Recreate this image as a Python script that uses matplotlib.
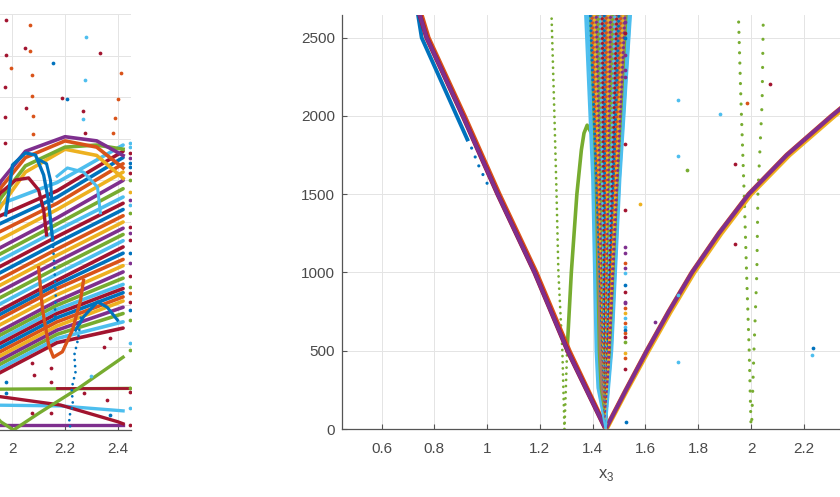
import matplotlib
matplotlib.use('Agg')
import matplotlib.pyplot as plt
from matplotlib.ticker import FuncFormatter

plt.rcParams['font.family'] = ['Liberation Sans', 'DejaVu Sans']

BLUE = '#0072BD'; ORANGE = '#D95319'; YELLOW = '#EDB120'; PURPLE = '#7E2F8E'
GREEN = '#77AC30'; CYAN = '#4DBEEE'; RED = '#A2142F'
CYCLE = [BLUE, ORANGE, YELLOW, PURPLE, GREEN, CYAN, RED]

# ---------------- tick labels ----------------
x_ticks_right = [0.6, 0.8, 1.0, 1.2, 1.4, 1.6, 1.8, 2.0, 2.2]
x_ticks_left = [2.0, 2.2, 2.4]
y_ticks_right = [0, 500, 1000, 1500, 2000, 2500]
y_ticks_left = [0, 1, 2, 3, 4, 5, 6, 7, 8, 9, 10]
x_label_right = r'x$_\mathregular{3}$'

# ---------------- left panel (partly visible) ----------------
lp_x = [1.90, 2.17, 2.42]
lp_start = [5.3, 5.0, 4.8, 4.6, 4.4, 4.2, 4.05, 3.9, 3.75, 3.6, 3.45, 3.3, 3.15, 3.0, 2.85,
            2.7, 2.6, 2.5, 2.35, 2.2, 2.1, 2.0, 1.9, 1.8, 1.7, 1.6, 1.5, 1.4, 1.3, 1.2]
lp_mid = [5.95, 5.75, 5.6, 5.45, 5.3, 5.1, 4.95, 4.8, 4.65, 4.5, 4.35, 4.2, 4.05, 3.9, 3.75,
          3.6, 3.5, 3.4, 3.25, 3.1, 3.0, 2.9, 2.8, 2.7, 2.6, 2.5, 2.4, 2.3, 2.2, 2.1]
lp_end = [6.85, 6.7, 6.55, 6.4, 6.2, 6.0, 5.8, 5.6, 5.45, 5.3, 5.15, 5.0, 4.85, 4.7, 4.55,
          4.4, 4.25, 4.1, 3.95, 3.8, 3.65, 3.5, 3.4, 3.3, 3.2, 3.1, 2.95, 2.8, 2.6, 2.45]

arc_x = [1.90, 1.96, 2.05, 2.20, 2.32, 2.42]
arc_purple = [5.4, 6.0, 6.7, 7.05, 6.95, 6.6]
arc_orange = [5.2, 5.85, 6.55, 6.95, 6.8, 6.3]
arc_green = [5.0, 5.6, 6.35, 6.8, 6.85, 6.75]
arc_yellow = [4.8, 5.4, 6.2, 6.75, 6.6, 6.05]

loop_blue_x = [1.975, 2.001, 2.05, 2.088, 2.119, 2.137, 2.153]
loop_blue_y = [5.17, 6.37, 6.66, 6.61, 6.13, 5.53, 4.57]
loop_blue_tail_x = [2.153, 2.16, 2.165, 2.16]
loop_blue_tail_y = [4.57, 3.9, 3.2, 2.6]
loop_blue2_x = [2.10, 2.13, 2.145, 2.15]
loop_blue2_y = [6.5, 6.4, 6.0, 5.5]
arc_cyan_x = [2.17, 2.209, 2.27, 2.323, 2.334]
arc_cyan_y = [6.1, 6.30, 6.2, 5.84, 5.22]
loop_small_x = [2.24, 2.27, 2.323, 2.36, 2.399]
loop_small_y = [2.4, 2.72, 3.08, 2.95, 2.64]
u_orange_x = [2.10, 2.115, 2.138, 2.156, 2.19, 2.228, 2.259, 2.27]
u_orange_y = [3.9, 2.88, 2.04, 1.75, 1.88, 2.40, 3.125, 3.6]
arch_red_x = [1.90, 1.956, 2.013, 2.062, 2.10, 2.119, 2.13]
arch_red_y = [5.2, 5.70, 6.01, 6.06, 5.77, 5.29, 4.69]

flat_green_x = [1.90, 2.45]; flat_green_y = [0.98, 1.0]
flat_red_x = [2.17, 2.45]; flat_red_y = [1.0, 1.0]
flat_purple_x = [1.90, 2.42]; flat_purple_y = [0.12, 0.12]
low_cyan_x = [1.90, 2.18, 2.42]; low_cyan_y = [0.6, 0.58, 0.46]
desc_red_x = [1.90, 1.956, 2.183, 2.399, 2.42]; desc_red_y = [0.85, 0.8, 0.6, 0.2, 0.15]
rise_green_x = [1.90, 1.956, 2.005, 2.10, 2.25, 2.42]; rise_green_y = [0.6, 0.2, 0.0, 0.4, 1.0, 1.75]
blue_drip_x = [2.26, 2.25, 2.235, 2.24, 2.225, 2.23, 2.215, 2.22]
blue_drip_y = [2.7, 2.2, 1.8, 1.4, 1.0, 0.6, 0.3, 0.05]

lp_pts_red = [(1.975, 9.86), (2.050, 9.18), (1.975, 9.01), (2.334, 9.06), (1.971, 8.25),
              (2.187, 7.98), (2.054, 7.74), (2.270, 7.67), (1.971, 7.52), (2.274, 7.14),
              (1.971, 6.90), (2.076, 1.60), (2.145, 1.48), (2.082, 1.32), (2.145, 1.16),
              (2.347, 2.0), (2.372, 2.2), (2.271, 0.88), (2.36, 0.72), (2.076, 0.40), (2.145, 0.40)]
lp_pts_orange = [(2.069, 9.74), (2.069, 9.11), (1.994, 8.70), (2.073, 8.53), (2.414, 8.58),
                 (2.073, 8.03), (2.399, 7.96), (2.077, 7.55), (2.388, 7.50), (2.077, 7.12),
                 (2.380, 7.14)]
lp_pts_cyan = [(2.278, 9.45), (2.274, 8.41), (2.270, 7.48), (2.30, 1.3)]
lp_pts_blue = [(2.153, 8.82), (2.209, 7.96), (1.975, 1.16), (1.975, 0.88), (2.372, 0.35)]

edge_col_x = 2.447
edge_col_y = [6.89, 6.81, 6.65, 6.53, 6.41, 6.33, 6.17, 6.01, 5.73, 5.53, 5.41, 5.21, 4.89,
              4.73, 4.57, 4.25, 4.01, 3.69, 3.44, 3.29, 3.08, 2.88, 2.64, 2.08, 1.92, 1.0,
              0.92, 0.52, 0.12]
edge_col_c = [CYAN, CYAN, RED, PURPLE, BLUE, BLUE, RED, GREEN, YELLOW, PURPLE, CYAN, GREEN,
              RED, PURPLE, RED, BLUE, PURPLE, RED, GREEN, ORANGE, RED, BLUE, GREEN, CYAN,
              GREEN, GREEN, RED, CYAN, RED]

# ---------------- right panel ----------------
vL_y = [0, 500, 1000, 1500, 2000, 2500, 2700]
vL_x = [1.449, 1.305, 1.18, 1.04, 0.908, 0.771, 0.735]
vL_x_orange = [1.452, 1.311, 1.186, 1.046, 0.914, 0.777, 0.741]
vR_y = [0, 250, 500, 750, 1000, 1250, 1500, 1750, 2000, 2200]
vR_x = [1.449, 1.526, 1.605, 1.688, 1.776, 1.878, 1.991, 2.135, 2.305, 2.45]
vR_x_yellow = [1.452, 1.530, 1.611, 1.695, 1.784, 1.887, 2.0, 2.145, 2.316, 2.462]

blue_arm_x = [0.733, 0.752, 0.885, 0.925]
blue_arm_y = [2700, 2500, 2000, 1850]
blue_arm_dots_x = [0.925, 0.948, 0.961, 1.0]
blue_arm_dots_y = [1850, 1771, 1707, 1569]

fun_y = [0, 262, 500, 1600, 2700]
fun_left_x = [1.449, 1.418, 1.411, 1.398, 1.370]
fun_right_x = [1.449, 1.462, 1.474, 1.505, 1.547]
fun_gl_x = [1.449, 1.424, 1.417, 1.405, 1.384]
fun_gr_x = [1.449, 1.458, 1.468, 1.497, 1.532]
fan_top_x = [1.39, 1.397, 1.405, 1.413, 1.42, 1.428, 1.436, 1.444, 1.452, 1.46, 1.468,
             1.476, 1.484, 1.492, 1.50, 1.508, 1.516, 1.524]

gd_left_x = [1.243, 1.255, 1.263, 1.27, 1.285, 1.293]
gd_left_y = [2700, 2000, 1500, 1000, 500, 0]
gd_low_x = [1.293, 1.298, 1.303]
gd_low_y = [0, 250, 500]
gs_x = [1.303, 1.319, 1.34, 1.357, 1.367, 1.379, 1.392]
gs_y = [500, 1000, 1500, 1782, 1890, 1941, 1900]
gd1_x = [1.953, 1.962, 1.974, 1.983, 1.993, 2.0]
gd1_y = [2600, 2084, 1500, 1000, 500, 10]
gd2_x = [2.046, 2.042, 2.026, 2.022, 2.011, 2.002]
gd2_y = [2580, 2090, 1500, 1000, 500, 10]

col_x = 1.524
col_y = [2601, 2529, 2497, 2388, 2292, 2248, 1820, 1398, 1164, 1122, 1058, 1026, 994, 920,
         877, 813, 803, 771, 739, 707, 675, 653, 632, 611, 586, 557, 483, 452, 381]
col_c = [PURPLE, RED, BLUE, PURPLE, PURPLE, PURPLE, RED, RED, PURPLE, PURPLE, ORANGE, PURPLE,
         CYAN, BLUE, RED, PURPLE, PURPLE, ORANGE, YELLOW, CYAN, ORANGE, CYAN, BLUE, ORANGE,
         RED, GREEN, YELLOW, ORANGE, RED]
rp_pts = [(1.724, 2101, CYAN), (1.883, 2011, CYAN), (1.724, 1743, CYAN), (1.724, 856, CYAN),
          (1.724, 430, CYAN), (2.231, 470, CYAN), (1.757, 1654, GREEN), (1.578, 1435, YELLOW),
          (1.941, 1690, RED), (1.941, 1179, RED), (2.07, 2207, RED), (1.983, 2084, ORANGE),
          (1.637, 685, PURPLE), (2.236, 519, BLUE), (1.525, 47, BLUE)]

# ---------------- figure ----------------
fig = plt.figure(figsize=(8.4, 4.97), dpi=100)
axL = fig.add_axes([-0.47238, 0.13481, 0.62833, 0.83702])
axR = fig.add_axes([0.40714, 0.13682, 0.62833, 0.83300])

fmt = FuncFormatter(lambda v, p: ('%g' % round(v, 6)))
TXT = '#4a4a4a'


def style(ax):
    for s in ['top', 'right']:
        ax.spines[s].set_visible(False)
    for s in ['left', 'bottom']:
        ax.spines[s].set_color('#555555')
        ax.spines[s].set_linewidth(0.9)
    ax.set_axisbelow(True)
    ax.grid(True, color='#e4e4e4', lw=0.7)
    ax.tick_params(direction='in', length=3.5, width=0.8, color='#555555',
                   labelcolor=TXT, labelsize=11)
    ax.tick_params(axis='x', pad=9)
    ax.tick_params(axis='y', pad=5)
    ax.xaxis.set_major_formatter(fmt)
    ax.yaxis.set_major_formatter(fmt)


def dotted(ax, x, y, color, lw=1.8, gap=3.0, off=0.0, z=3):
    ax.plot(x, y, color=color, lw=lw, linestyle=(off, (0.01, gap)),
            dash_capstyle='round', zorder=z)


def dots(ax, x, y, color, z=8):
    ax.plot(x, y, 'o', color=color, ms=2.7, mew=0, zorder=z)


# ---- left panel ----
style(axL)
axL.set_xlim(0.45, 2.45)
axL.set_ylim(0, 10)
axL.set_xticks(x_ticks_left)
axL.set_yticks(y_ticks_left)
axL.tick_params(axis='y', labelleft=False)

for i, (a, b, c) in enumerate(zip(lp_start, lp_mid, lp_end)):
    axL.plot(lp_x, [a, b, c], color=CYCLE[(i + 5) % 7], lw=2.6, zorder=2,
             solid_capstyle='round')
for yy, col in [(arc_yellow, YELLOW), (arc_green, GREEN), (arc_orange, ORANGE), (arc_purple, PURPLE)]:
    axL.plot(arc_x, yy, color=col, lw=2.6, zorder=2)
axL.plot(arch_red_x, arch_red_y, color=RED, lw=2.4, zorder=3)
axL.plot(loop_blue_x, loop_blue_y, color=BLUE, lw=2.4, zorder=3)
dotted(axL, loop_blue_tail_x, loop_blue_tail_y, BLUE, lw=2.0, gap=2.5)
axL.plot(loop_blue2_x, loop_blue2_y, color=BLUE, lw=2.2, zorder=3)
axL.plot(arc_cyan_x, arc_cyan_y, color=CYAN, lw=2.2, zorder=3)
axL.plot(loop_small_x, loop_small_y, color=BLUE, lw=2.2, zorder=3)
axL.plot(u_orange_x, u_orange_y, color=ORANGE, lw=2.4, zorder=3)

axL.plot(flat_green_x, flat_green_y, color=GREEN, lw=2.4, zorder=2)
axL.plot(flat_red_x, flat_red_y, color=RED, lw=2.0, zorder=2)
axL.plot(flat_purple_x, flat_purple_y, color=PURPLE, lw=2.4, zorder=2)
axL.plot(low_cyan_x, low_cyan_y, color=CYAN, lw=2.4, zorder=2)
axL.plot(desc_red_x, desc_red_y, color=RED, lw=2.4, zorder=3)
axL.plot(rise_green_x, rise_green_y, color=GREEN, lw=2.4, zorder=3)
dotted(axL, blue_drip_x, blue_drip_y, BLUE, lw=2.0, gap=2.2)

for pts, col in [(lp_pts_red, RED), (lp_pts_orange, ORANGE), (lp_pts_cyan, CYAN), (lp_pts_blue, BLUE)]:
    dots(axL, [p[0] for p in pts], [p[1] for p in pts], col, z=4)
for yv, cv in zip(edge_col_y, edge_col_c):
    dots(axL, [edge_col_x], [yv], cv, z=4)

# ---- right panel ----
style(axR)
axR.set_xlim(0.45, 2.45)
axR.set_ylim(0, 2645)
axR.set_xticks(x_ticks_right)
axR.set_yticks(y_ticks_right)
axR.set_xlabel(x_label_right, fontsize=12, color=TXT, labelpad=8)

# green curves
dotted(axR, gd_left_x, gd_left_y, GREEN, lw=2.0, gap=2.2)
dotted(axR, gd_low_x, gd_low_y, GREEN, lw=2.0, gap=2.2)
axR.plot(gs_x, gs_y, color=GREEN, lw=2.6, zorder=3)
dotted(axR, gd1_x, gd1_y, GREEN, lw=2.3, gap=3.2)
dotted(axR, gd2_x, gd2_y, GREEN, lw=2.3, gap=4.4)

# main V
axR.plot(blue_arm_x, blue_arm_y, color=BLUE, lw=2.8, zorder=4)
dotted(axR, blue_arm_dots_x, blue_arm_dots_y, BLUE, lw=2.3, gap=3.0, z=4)
axR.plot(vL_x_orange, vL_y, color=ORANGE, lw=3.4, zorder=4)
axR.plot(vR_x_yellow, vR_y, color=YELLOW, lw=3.4, zorder=4)
axR.plot(vL_x, vL_y, color=RED, lw=3.4, zorder=5)
axR.plot(vL_x, vL_y, color=PURPLE, lw=2.8, zorder=5)
axR.plot(vR_x, vR_y, color=ORANGE, lw=3.4, zorder=5)
axR.plot(vR_x, vR_y, color=PURPLE, lw=2.8, zorder=5)

# funnel
axR.fill_betweenx(fun_y, fun_left_x, fun_right_x, color=CYAN, lw=0, zorder=6)
axR.fill_betweenx(fun_y, fun_gl_x, fun_gr_x, color=GREEN, lw=0, zorder=6)
axR.fill_betweenx(fun_y, [x + 0.004 for x in fun_gl_x], [x - 0.004 for x in fun_gr_x],
                  color='#a87a66', lw=0, zorder=6)
for i, tx in enumerate(fan_top_x):
    axR.plot([1.449, tx], [0, 2700], color=CYCLE[i % 7], lw=2.2,
             linestyle=(i * 0.7, (0.01, 1.6)), dash_capstyle='round', zorder=7)
axR.plot(fun_left_x, fun_y, color=CYAN, lw=1.5, zorder=7)
axR.plot(fun_right_x, fun_y, color=CYAN, lw=1.5, zorder=7)

# scattered points
for yv, cv in zip(col_y, col_c):
    dots(axR, [col_x], [yv], cv)
for xv, yv, cv in rp_pts:
    dots(axR, [xv], [yv], cv)

fig.savefig('out.png', dpi=100)
